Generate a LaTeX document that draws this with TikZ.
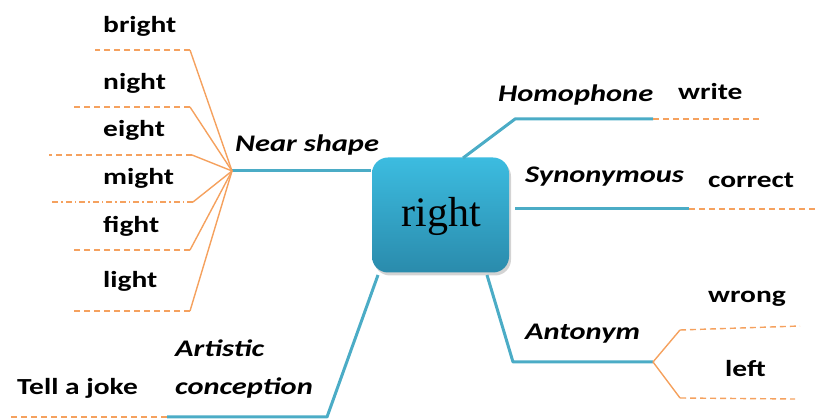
\documentclass[tikz,border=0pt]{standalone}
\usepackage{fontspec}
\setmainfont{Liberation Serif}
\newfontfamily\labfont[FakeStretch=1.28]{Carlito}
\usetikzlibrary{shadows}
\definecolor{bl}{HTML}{4BACC6}
\definecolor{orl}{HTML}{F5A15E}
\definecolor{btop}{HTML}{3CBCE0}
\definecolor{bbot}{HTML}{2A8BAC}
\tikzset{
  word/.style={anchor=base west,inner sep=0pt,font=\labfont\fontsize{23}{27}\selectfont\bfseries},
  branch/.style={anchor=base west,inner sep=0pt,font=\labfont\fontsize{23.8}{27}\selectfont\bfseries\itshape},
  bline/.style={draw=bl,line width=3pt,line join=round},
  oline/.style={draw=orl,line width=1.4pt},
  odash/.style={draw=orl,line width=1.4pt,dash pattern=on 6pt off 4pt},
  odashdot/.style={draw=orl,line width=1.4pt,dash pattern=on 6pt off 3pt on 1.5pt off 3pt},
  cbox/.style={rounded corners=16pt,minimum width=137pt,minimum height=115pt,top color=btop,bottom color=bbot,draw=none,
    drop shadow={shadow xshift=2pt,shadow yshift=-3pt,opacity=0.35},inner sep=0pt}
}
\begin{document}
\begin{tikzpicture}[x=1pt,y=-1pt]
\useasboundingbox (0,0) rectangle (817,419);
% central box
\node[cbox] (c) at (440.5,215) {};
\node[anchor=base,inner sep=0pt,font=\fontsize{42}{46}\selectfont] (ctext) at (441,227) {right};
% Near shape
\coordinate (hub) at (232,171);
\coordinate (nsend) at (371,171);
\draw[bline] (hub) -- (nsend);
\node[branch] (ns) at (235,152) {Near shape};
\foreach \nm/\txt/\by/\ly/\lx/\bx in {a/bright/33/50/95/190, b/night/90/107/72/190, c/eight/137/155/49/192, e/fight/233/250/72/190, f/light/288/311/72/190}{
  \node[word] (w\nm) at (103,\by) {\txt};
  \coordinate (k\nm) at (\bx,\ly);
  \coordinate (l\nm) at (\lx,\ly);
  \draw[oline] (hub) -- (k\nm);
  \draw[odash] (k\nm) -- (l\nm);
}
\node[word] (wd) at (103,185) {might};
\coordinate (kd) at (193,202);
\coordinate (ld) at (49,202);
\draw[oline] (hub) -- (kd);
\draw[odashdot] (kd) -- (ld);
% Homophone
\coordinate (h0) at (463,158);
\coordinate (h1) at (515,119);
\coordinate (h2) at (653,119);
\coordinate (h3) at (762,119);
\draw[bline] (h0) -- (h1) -- (h2);
\draw[odash] (h2) -- (h3);
\node[branch] (hom) at (498,102) {Homophone};
\node[word] (write) at (678,100) {write};
% Synonymous
\coordinate (s0) at (515,209);
\coordinate (s1) at (689,209);
\coordinate (s2) at (817,209);
\draw[bline] (s0) -- (s1);
\draw[odash] (s1) -- (s2);
\node[branch] (syn) at (525,183) {Synonymous};
\node[word] (corr) at (708,188) {correct};
% Antonym
\coordinate (a0) at (487,275);
\coordinate (a1) at (513,362);
\coordinate (a2) at (653,362);
\coordinate (a3) at (680,330);
\coordinate (a4) at (800,326);
\coordinate (a5) at (680,398);
\coordinate (a6) at (795,399);
\draw[bline] (a0) -- (a1) -- (a2);
\draw[oline] (a2) -- (a3);
\draw[odash] (a3) -- (a4);
\draw[oline] (a2) -- (a5);
\draw[odash] (a5) -- (a6);
\node[branch] (ant) at (525,340) {Antonym};
\node[word] (wrong) at (708,303) {wrong};
\node[word] (left) at (725,377) {left};
% Artistic conception
\coordinate (r0) at (378,275);
\coordinate (r1) at (327,417);
\coordinate (r2) at (167,417);
\coordinate (r3) at (10,417);
\draw[bline] (r0) -- (r1) -- (r2);
\draw[odash] (r2) -- (r3);
\node[branch] (art) at (175,357) {Artistic};
\node[branch] (conc) at (175,395) {conception};
\node[word] (joke) at (17,395) {Tell a joke};
\end{tikzpicture}
\end{document}
